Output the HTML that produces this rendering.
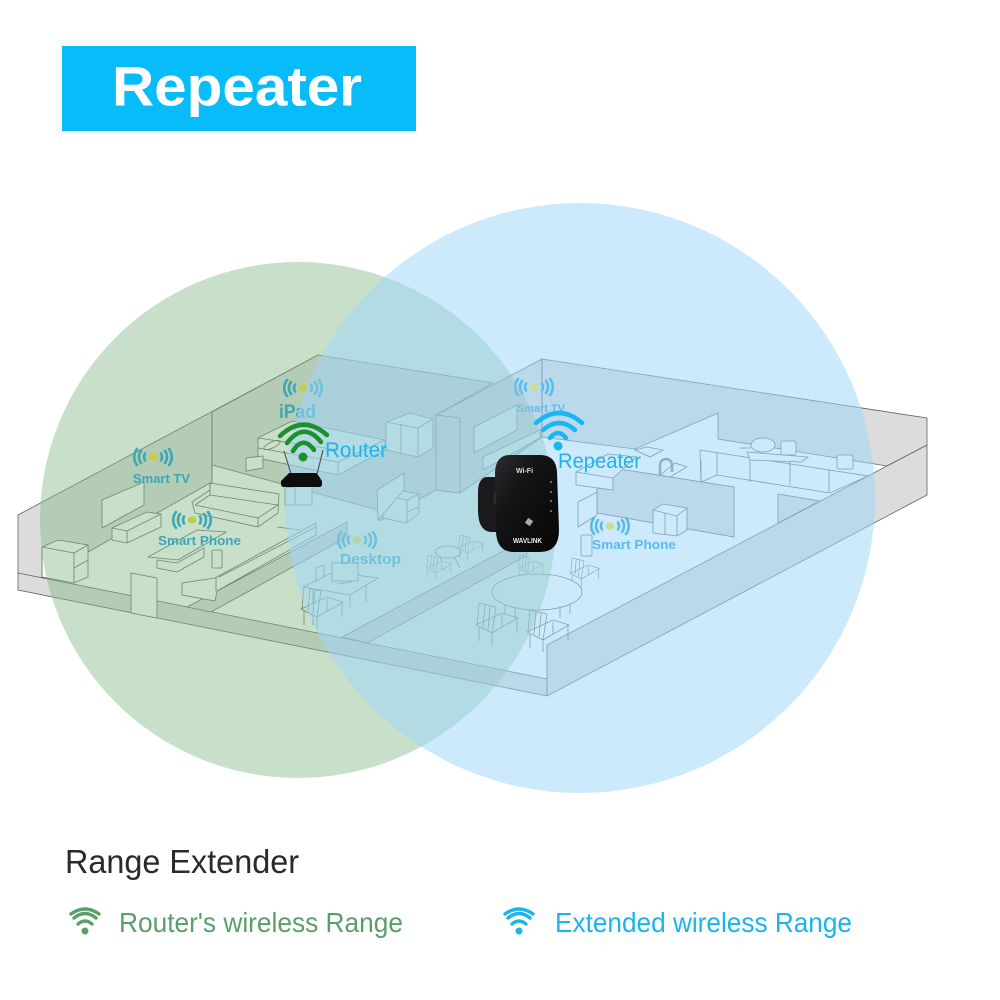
<!DOCTYPE html>
<html><head><meta charset="utf-8"><style>
html,body{margin:0;padding:0;background:#fff;width:1000px;height:1000px;overflow:hidden}
svg{display:block}
text{font-family:"Liberation Sans",sans-serif}
.l{fill:none;stroke:#5c6660;stroke-width:.8}
.f{fill:#fff;stroke:#5c6660;stroke-width:.8}
.w{fill:#dcdcdc;stroke:#5c6660;stroke-width:.8}
.b{font-weight:bold;fill:#0a9cdc}
</style></head><body>
<svg width="1000" height="1000" viewBox="0 0 1000 1000" xmlns="http://www.w3.org/2000/svg">
<defs>
<g id="wv" fill="none" stroke="#0a9cdc" stroke-width="2.600" stroke-linecap="round">
<path d="M-8,-3.500A7,7 0 0 0 -8,3.500"/><path d="M-12,-6A10,10 0 0 0 -12,6"/><path d="M-16,-8A13,13 0 0 0 -16,8"/>
<path d="M8,-3.500A7,7 0 0 1 8,3.500"/><path d="M12,-6A10,10 0 0 1 12,6"/><path d="M16,-8A13,13 0 0 1 16,8"/>
<ellipse cx="0" cy="0" rx="4.500" ry="3.800" fill="#f4e522" stroke="none"/>
</g>
<g id="ch" class="l"><path class="f" d="M0,22L16,30L42,15L26,10Z"/><path d="M3,0L1,22M20,4L16,30M3,0L20,4M9,1L7,24M14,3L12,27M3,24L3,38M16,31L16,42M41,16L41,30M26,12L26,24"/></g>
<linearGradient id="dev" x1="0" y1="0" x2="1" y2="1"><stop offset="0" stop-color="#2c2c2e"/><stop offset=".35" stop-color="#141416"/><stop offset="1" stop-color="#060607"/></linearGradient>
</defs>
<rect x="62" y="46" width="354" height="85" fill="#08bcf9"/>
<text x="112" y="105.500" font-size="56" font-weight="bold" fill="#fff" textLength="250" lengthAdjust="spacingAndGlyphs">Repeater</text>

<!-- building -->
<polygon points="18,515 318,355 493,383 542,359 927,418 927,495 547,696 18,590" fill="#fff"/>
<polygon class="w" points="18,515 318,355 318,412 212,465 212,482 88,552 42,577 42,580 18,573"/>
<polygon class="w" points="318,355 493,383 436,415 436,490 380,521 378,510 212,465 212,412"/>
<polygon class="w" points="436,415 542,359 542,437 460,493 436,490"/>
<polygon class="w" points="542,359 927,418 927,445 887,466 718,439 718,413 635,449 542,437"/>
<polygon class="w" points="18,573 547,679 547,696 18,590"/>
<polygon class="w" points="547,645 927,445 927,495 547,696"/>
<polygon class="w" points="187,607 347,522 347,537 211,612"/>
<polygon class="w" points="342,637 533,535 526,556 367,643"/>
<polygon class="w" points="613,468 734,487 734,537 597,513 597,480"/>
<polygon class="w" points="778,494 820,501 778,523"/>
<polygon class="w" points="436,415 460,418 460,493 436,490"/>
<path class="l" d="M212,412V482M542,359V437"/>

<!-- left room furniture -->
<polygon class="f" points="42,547 58,540 88,545 88,577 74,583 42,577"/><path class="l" d="M42,547L74,553V583M74,553L88,545M74,568L88,560"/>
<polygon class="f" points="102,500 144,482 144,505 102,528"/>
<polygon class="f" points="112,528 147,512 161,514 161,527 127,543 112,540"/><path class="l" d="M112,528L127,531V543M127,531L161,514"/>
<polygon class="f" points="210,483 279,494 278,513 258,527 195,513 192,502 210,490"/><path class="l" d="M210,483V495L195,505M210,495L278,505M195,505L258,518V527M258,518L278,505"/>
<polygon class="f" points="148,557 178,560 226,532 197,530"/><polygon class="f" points="157,560 177,563 204,548 204,557 177,572 157,568"/>
<polygon class="f" points="131,573 157,578 157,618 131,613"/>
<polygon class="f" points="182,583 215,578 316,523 316,535 217,591 215,601 182,595"/><path class="l" d="M216,578V591M277,527L300,530M219,577L316,527"/>
<rect class="f" x="212" y="550" width="10" height="18" rx="1"/>
<polygon class="f" points="258,438 292,421 385,440 385,450 338,475 258,458"/><path class="l" d="M258,448L338,462L385,440M338,462V475M258,438L338,450"/>
<ellipse class="l" cx="272" cy="445" rx="9" ry="3" transform="rotate(-25 272 445)"/>
<polygon class="f" points="246,458 263,456 263,468 246,471"/>
<polygon class="f" points="285,488 312,485 312,505 285,505"/><path class="l" d="M295,488V505"/>
<polygon class="f" points="386,422 410,413 433,419 433,448 418,457 386,450"/><path class="l" d="M386,422L418,428V457M418,428L433,419M401,424V453"/>
<polygon class="f" points="383,495 398,490 419,494 419,513 407,523 383,518"/><path class="l" d="M383,495L407,500V523M407,500L419,494M407,512L419,507"/>
<polygon class="f" points="377,490 404,473 404,490 378,520"/>
<polygon class="f" points="303,587 350,595 378,578 333,572"/><path class="l" d="M350,596V607M366,586V602M313,590V625"/>
<rect class="f" x="332" y="563" width="26" height="18"/><path class="l" d="M337,584L352,582"/><polygon class="f" points="316,568 324,565 324,577 316,581"/>
<use href="#ch" x="301" y="587"/>
<ellipse class="f" cx="448" cy="552" rx="13" ry="6"/><path class="l" d="M440,557L444,570M454,557L460,568"/>
<use href="#ch" transform="translate(426,555) scale(.6)"/><use href="#ch" transform="translate(458,535) scale(.6)"/>
<use href="#ch" x="476" y="603"/><use href="#ch" x="527" y="610"/>
<use href="#ch" transform="translate(518,555) scale(.6)"/><use href="#ch" transform="translate(570,558) scale(.7)"/>
<ellipse class="f" cx="537" cy="592" rx="45" ry="18"/><path class="l" d="M505,604V614M515,607V618M560,606V618M570,604V614"/>
<polygon class="f" points="474,427 517,405 517,430 474,453"/>
<polygon class="f" points="483,457 540,430 540,438 483,470"/>
<polygon class="f" points="576,472 608,454 636,457 613,478 613,490 576,485"/><path class="l" d="M576,472L613,478"/>
<polygon class="f" points="578,502 597,492 597,515 578,527"/>
<polygon class="l" points="635,450 647,447 663,450 650,457"/>
<rect class="f" x="581" y="535" width="11" height="21" rx="1.500"/>
<!-- kitchen -->
<polygon class="f" points="700,450 868,476 830,493 717,475 701,482"/>
<path class="l" d="M717,452V475M750,457V482M790,462V485M829,470V492M701,460V482"/>
<polygon class="f" points="747,452 808,457 801,462 750,460"/>
<ellipse class="f" cx="763" cy="445" rx="12" ry="7"/><path class="l" d="M751,448H740"/>
<rect class="f" x="781" y="441" width="15" height="14" rx="2"/>
<rect class="f" x="837" y="455" width="16" height="14" rx="2"/>
<polygon class="f" points="653,510 663,504 687,508 687,530 677,536 653,533"/><path class="l" d="M653,510L677,516V536M677,516L687,508M665,513V535"/>
<polygon class="f" points="660,475 675,463 687,467 670,477"/>
<path d="M660,475V465A6,6 0 0 1 672,465V472" fill="none" stroke="#7d8688" stroke-width="2.500"/>

<!-- sub-overlay labels -->
<use href="#wv" x="153" y="457"/><use href="#wv" x="192" y="520"/><use href="#wv" x="303" y="388"/>
<use href="#wv" x="357" y="540"/><use href="#wv" x="534" y="387"/><use href="#wv" x="610" y="526"/>
<text class="b" x="133" y="483" font-size="13" textLength="57" lengthAdjust="spacingAndGlyphs">Smart TV</text>
<text class="b" x="158" y="545" font-size="13" textLength="83" lengthAdjust="spacingAndGlyphs">Smart Phone</text>
<text class="b" x="279" y="418" font-size="19" textLength="37" lengthAdjust="spacingAndGlyphs">iPad</text>
<text class="b" x="340" y="564" font-size="15" textLength="61" lengthAdjust="spacingAndGlyphs">Desktop</text>
<text class="b" x="517" y="412" font-size="11" textLength="48" lengthAdjust="spacingAndGlyphs">Smart TV</text>
<text class="b" x="592" y="549" font-size="13" textLength="84" lengthAdjust="spacingAndGlyphs">Smart Phone</text>

<!-- range circles -->
<circle cx="298" cy="520" r="258" fill="#82b686" fill-opacity=".44"/>
<circle cx="580" cy="498" r="295" fill="#a0d7fb" fill-opacity=".53"/>

<!-- router -->
<path d="M284,451L291,474M323,450L317,474" stroke="#555" stroke-width="1.200" fill="none"/>
<path d="M288,474Q288,473 290,473H315Q317,473 318,475L322,481V484Q322,487 319,487H284Q281,487 281,484V481Z" fill="#0d0d0d"/>
<g fill="none" stroke="#1f8f2e" stroke-width="4.500" stroke-linecap="round">
<path d="M293,451Q303,435 314,450"/><path d="M287,443Q304,421 321,442"/><path d="M280,436Q303,414 327,435"/></g>
<circle cx="303" cy="457" r="4.500" fill="#1f8f2e"/>
<text x="325" y="457" font-size="21" fill="#1cb4ee" textLength="62" lengthAdjust="spacingAndGlyphs">Router</text>

<!-- repeater wifi -->
<g fill="none" stroke="#17b7f6" stroke-width="4.500" stroke-linecap="round">
<path d="M550,438Q558,428 566,438"/><path d="M543,430Q559,416 575,430"/><path d="M536,423Q559,403 582,423"/></g>
<circle cx="558" cy="446" r="4.500" fill="#17b7f6"/>
<text x="558" y="468" font-size="21" fill="#1cb4ee" textLength="83" lengthAdjust="spacingAndGlyphs">Repeater</text>

<!-- device -->
<path d="M486,477H497V532H490Q478,530 478,510V492Q478,479 486,477Z" fill="#1a1a1c"/>
<rect x="494" y="491" width="7" height="13" fill="#2e3234"/>
<path d="M510,455H540Q556,455 557,472L559,530Q559,552 540,552H514Q497,552 496,532L495,472Q496,455 510,455Z" fill="url(#dev)"/>
<text x="524.500" y="473" font-size="7" font-weight="bold" fill="#ddd" text-anchor="middle">Wi-Fi</text>
<g fill="#888"><circle cx="551" cy="482" r="1"/><circle cx="551" cy="492" r="1"/><circle cx="551" cy="501" r="1"/><circle cx="551" cy="511" r="1"/></g>
<rect x="526" y="519" width="6" height="6" fill="#aaa" transform="rotate(35 529 522)"/>
<text x="513" y="543" font-size="7" font-weight="bold" fill="#eee" textLength="29" lengthAdjust="spacingAndGlyphs">WAVLINK</text>

<!-- legend -->
<text x="65" y="873" font-size="33" fill="#2a2a2a" textLength="234" lengthAdjust="spacingAndGlyphs">Range Extender</text>
<g fill="none" stroke="#5a9f68" stroke-width="3.400" stroke-linecap="round"><path d="M78,924Q85,918 92,924"/><path d="M74,918Q85,909 96,918"/><path d="M71,914Q85,904 99,914"/></g>
<circle cx="85" cy="931" r="3.500" fill="#5a9f68"/>
<text x="119" y="932" font-size="28" fill="#5a9f68" textLength="284" lengthAdjust="spacingAndGlyphs">Router's wireless Range</text>
<g fill="none" stroke="#1cb4ee" stroke-width="3.400" stroke-linecap="round"><path d="M512,924Q519,918 526,924"/><path d="M508,918Q519,909 530,918"/><path d="M505,914Q519,904 533,914"/></g>
<circle cx="519" cy="931" r="3.500" fill="#1cb4ee"/>
<text x="555" y="932" font-size="28" fill="#1cb4ee" textLength="297" lengthAdjust="spacingAndGlyphs">Extended wireless Range</text>
</svg>
</body></html>
